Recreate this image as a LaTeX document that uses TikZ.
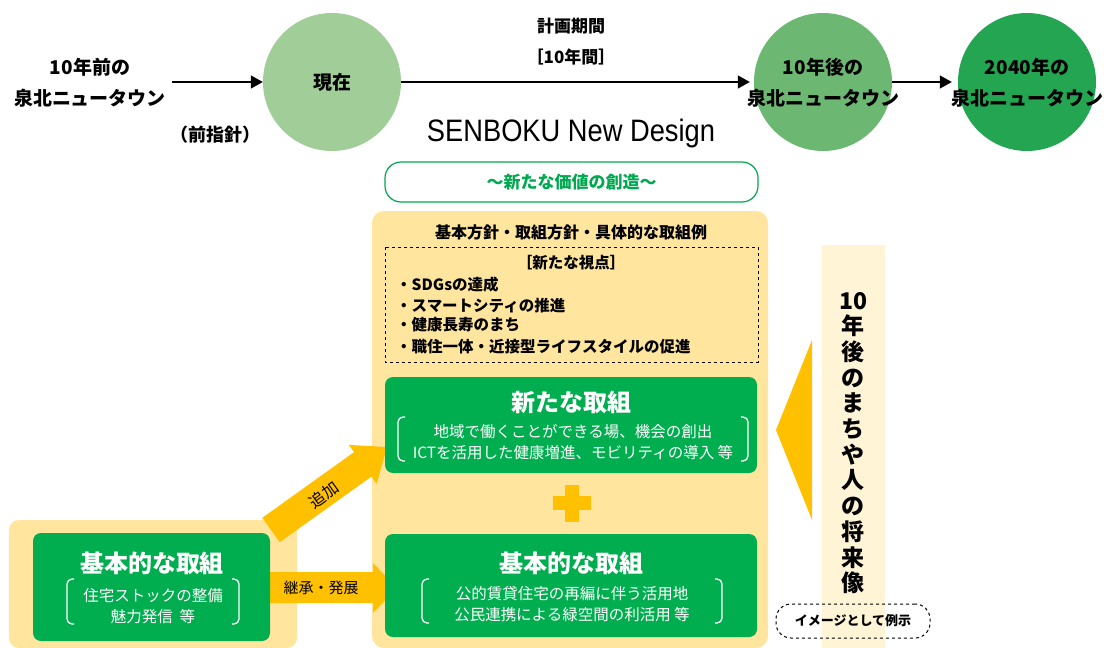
\documentclass[tikz,border=0pt]{standalone}
\usepackage{fontspec}
\newfontfamily\jp{Noto Sans CJK JP}
\newfontfamily\lat{Liberation Sans}
\usetikzlibrary{arrows.meta,shapes.misc}
\definecolor{cnow}{HTML}{A1CD98}
\definecolor{cfut}{HTML}{6CB872}
\definecolor{cfar}{HTML}{23A552}
\definecolor{gbox}{HTML}{00AD4F}
\definecolor{gtxt}{HTML}{00A94F}
\definecolor{panel}{HTML}{FFE59E}
\definecolor{strip}{HTML}{FFF4D6}
\definecolor{arrowy}{HTML}{FFC000}
\tikzset{
  blk/.style={font=\jp\bfseries\fontsize{19}{31}\selectfont, align=center, inner sep=0pt},
  circ/.style={circle, minimum size=138pt, inner sep=0pt},
  tarr/.style={line width=1.4pt, -{Triangle[length=12pt,width=13pt]}},
  greenbox/.style={fill=gbox, rounded corners=8pt},
  gtitle/.style={font=\jp\bfseries\fontsize{24}{28}\selectfont, text=white, inner sep=0pt},
  gsub/.style={font=\jp\fontsize{15.5}{21.5}\selectfont, text=white, align=center, inner sep=0pt},
  brk/.style={draw=white, line width=1.3pt, rounded corners=5pt},
  bul/.style={font=\jp\bfseries\fontsize{15.5}{20}\selectfont, anchor=west, inner sep=0pt},
}
\begin{document}
\begin{tikzpicture}[x=1pt,y=-1pt]
\useasboundingbox (0,0) rectangle (1104,648);
% ---------- backgrounds ----------
\fill[panel, rounded corners=12pt] (372,211) rectangle (768,648);
\fill[panel, rounded corners=10pt] (9,520) rectangle (297,648);
\fill[strip] (822,245) rectangle (885,648);
\fill[arrowy] (776,430) -- (812,340) -- (812,520) -- cycle;
% ---------- timeline ----------
\node[blk] (pretxt) at (90,83) {10年前の\\泉北ニュータウン};
\node[circ, fill=cnow] (now) at (332,82) {};
\node[blk] (nowtxt) at (332,82) {現在};
\node[circ, fill=cfut] (fut) at (823,82) {};
\node[blk] (futtxt) at (823,83) {10年後の\\泉北ニュータウン};
\node[circ, fill=cfar] (far) at (1027,82) {};
\node[blk] (fartxt) at (1027,83) {2040年の\\泉北ニュータウン};
\draw[tarr] ([xshift=6pt]pretxt.east |- now.west) -- (now.west);
\draw[tarr] (now.east) -- ([xshift=-4pt]fut.west);
\draw[tarr] (fut.east) -- ([xshift=-6pt]far.west);
\node[blk, font=\jp\bfseries\fontsize{17}{31}\selectfont] (period) at (571,41.5) {計画期間\\［10年間］};
\node[blk, font=\jp\bfseries\fontsize{18}{20}\selectfont] (prev) at (215,135) {（前指針）};
\node[inner sep=0pt, font=\lat\fontsize{31}{34}\selectfont] (title) at (571,133) {\scalebox{0.88}[1]{SENBOKU New Design}};
\node[draw=gtxt, line width=1.2pt, rounded corners=16pt, minimum width=373pt, minimum height=40pt, inner sep=0pt,
      font=\jp\bfseries\fontsize{17}{20}\selectfont, text=gtxt] (value) at (571.5,182) {～新たな価値の創造～};
% ---------- main panel ----------
\node[blk, font=\jp\bfseries\fontsize{16}{20}\selectfont] (head) at (571,232) {基本方針・取組方針・具体的な取組例};
\draw[dashed, line width=1pt] (385,247) rectangle (758,362);
\node[blk, font=\jp\bfseries\fontsize{15.5}{20}\selectfont] (view) at (571,263) {［新たな視点］};
\node[bul] (b1) at (396,285) {・SDGsの達成};
\node[bul] (b2) at (396,306) {・スマートシティの推進};
\node[bul] (b3) at (396,325) {・健康長寿のまち};
\node[bul] (b4) at (396,347) {・職住一体・近接型ライフスタイルの促進};
% ---------- arrows ----------
\fill[arrowy] (279.7,542.2) -- (262.3,517.8) -- (354.0,452.2) -- (348.8,444.9) -- (387,447) -- (376.6,483.9) -- (371.4,476.6) -- cycle;
\node[font=\jp\fontsize{16}{18}\selectfont, rotate=35.6, inner sep=0pt] (addlbl) at (324,495) {追加};
\fill[arrowy] (268,572) -- (373,572) -- (373,563) -- (397,588) -- (373,613) -- (373,603) -- (268,603) -- cycle;
\node[font=\jp\fontsize{15}{18}\selectfont, inner sep=0pt] (inhlbl) at (321,588) {継承・発展};
% ---------- green boxes ----------
\fill[greenbox] (385,377) rectangle (757,473);
\node[gtitle] (newt) at (571,402) {新たな取組};
\node[gsub] (news) at (573,442) {地域で働くことができる場、機会の創出\\ICTを活用した健康増進、モビリティの導入 等};
\draw[brk] (405,417) -- (398,417) -- (398,461) -- (405,461);
\draw[brk] (741,417) -- (748,417) -- (748,461) -- (741,461);
\fill[arrowy] (565,485) rectangle (579,522);
\fill[arrowy] (553,496) rectangle (591,510);
\fill[greenbox] (385,534) rectangle (757,637);
\node[gtitle] (bast) at (571,563) {基本的な取組};
\node[gsub] (bass) at (572,604) {公的賃貸住宅の再編に伴う活用地\\公民連携による緑空間の利活用 等};
\draw[brk] (429,579) -- (422,579) -- (422,623) -- (429,623);
\draw[brk] (715,579) -- (722,579) -- (722,623) -- (715,623);
\fill[greenbox] (33,533) rectangle (270,641);
\node[gtitle] (oldt) at (152,563) {基本的な取組};
\node[gsub] (olds) at (153,606) {住宅ストックの整備\\魅力発信\ \ 等};
\draw[brk] (74,579) -- (67,579) -- (67,624) -- (74,624);
\draw[brk] (232,579) -- (239,579) -- (239,624) -- (232,624);
% ---------- right side ----------
\node[font=\jp\bfseries\fontsize{23}{25.7}\selectfont, align=center, inner sep=0pt] (vision) at (853,443)
  {10\\年\\後\\の\\ま\\ち\\や\\人\\の\\将\\来\\像};
\node[draw, dashed, line width=1pt, rounded corners=15pt, minimum width=154pt, minimum height=34pt, inner sep=0pt,
      font=\jp\bfseries\fontsize{13}{15}\selectfont] (example) at (853,621) {イメージとして例示};
\end{tikzpicture}
\end{document}
